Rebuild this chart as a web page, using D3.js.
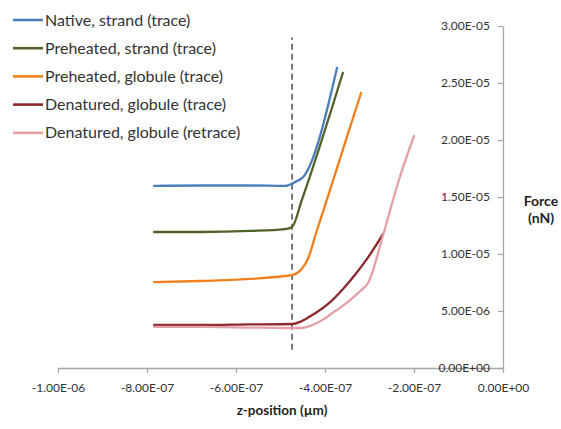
<!DOCTYPE html>
<html>
<head>
<meta charset="utf-8">
<script src="https://cdn.jsdelivr.net/npm/d3@7"></script>
<style>
  html, body { margin: 0; padding: 0; background: #fff; }
  svg { display: block; font-family: Lato, "Open Sans", sans-serif; }
</style>
</head>
<body>
<svg id="chart" width="561" height="429"></svg>
<script>
// Force–distance traces (z-position in µm, force in nN)
const seriesNames = [
  "Native, strand (trace)",
  "Preheated, strand (trace)",
  "Preheated, globule (trace)",
  "Denatured, globule (trace)",
  "Denatured, globule (retrace)"
];
const seriesColors = ["#4a7ebb", "#4f6228", "#f07f1e", "#8c2a2e", "#e3a0a6"];

const nativeStrandZ = [-7.84e-7, -6.81e-7, -5.69e-7, -4.90e-7, -4.76e-7, -4.67e-7, -4.49e-7, -3.73e-7];
const nativeStrandF = [1.597e-5, 1.601e-5, 1.601e-5, 1.597e-5, 1.614e-5, 1.632e-5, 1.675e-5, 2.632e-5];

const preheatedStrandZ = [-7.84e-7, -6.81e-7, -5.69e-7, -4.90e-7, -4.74e-7, -4.52e-7, -3.60e-7];
const preheatedStrandF = [1.193e-5, 1.193e-5, 1.202e-5, 1.219e-5, 1.237e-5, 1.474e-5, 2.588e-5];

const preheatedGlobuleZ = [-7.84e-7, -6.81e-7, -5.69e-7, -4.90e-7, -4.72e-7, -4.60e-7, -4.50e-7, -4.38e-7, -4.20e-7, -3.93e-7, -3.55e-7, -3.19e-7];
const preheatedGlobuleF = [7.54e-6, 7.63e-6, 7.81e-6, 8.07e-6, 8.16e-6, 8.40e-6, 8.80e-6, 9.60e-6, 1.184e-5, 1.509e-5, 1.974e-5, 2.412e-5];

const denaturedTraceZ = [-7.84e-7, -6.81e-7, -5.69e-7, -4.74e-7, -4.56e-7, -4.38e-7, -4.16e-7, -3.89e-7, -3.60e-7, -3.33e-7, -3.06e-7, -2.88e-7, -2.70e-7];
const denaturedTraceF = [3.77e-6, 3.77e-6, 3.82e-6, 3.86e-6, 4.05e-6, 4.42e-6, 4.95e-6, 5.75e-6, 6.90e-6, 8.15e-6, 9.55e-6, 1.060e-5, 1.175e-5];

const denaturedRetraceZ = [-7.84e-7, -6.81e-7, -5.69e-7, -4.90e-7, -4.56e-7, -4.36e-7, -4.18e-7, -4.00e-7, -3.84e-7, -3.62e-7, -3.41e-7, -3.21e-7, -3.03e-7, -2.70e-7, -2.36e-7, -2.00e-7];
const denaturedRetraceF = [3.60e-6, 3.60e-6, 3.55e-6, 3.51e-6, 3.51e-6, 3.65e-6, 3.95e-6, 4.35e-6, 4.80e-6, 5.40e-6, 6.05e-6, 6.75e-6, 7.46e-6, 1.158e-5, 1.623e-5, 2.035e-5];

// contact point marker (vertical dashed line)
const contactZ = -4.74e-7;
const contactSpan = [1.6e-6, 2.9e-5];

const xTicks = [-1e-6, -8e-7, -6e-7, -4e-7, -2e-7, 0];
const xTickLabels = ["-1.00E-06", "-8.00E-07", "-6.00E-07", "-4.00E-07", "-2.00E-07", "0.00E+00"];
const yTicks = [0, 5e-6, 1e-5, 1.5e-5, 2e-5, 2.5e-5, 3e-5];
const yTickLabels = ["0.00E+00", "5.00E-06", "1.00E-05", "1.50E-05", "2.00E-05", "2.50E-05", "3.00E-05"];

const seriesZ = [nativeStrandZ, preheatedStrandZ, preheatedGlobuleZ, denaturedTraceZ, denaturedRetraceZ];
const seriesF = [nativeStrandF, preheatedStrandF, preheatedGlobuleF, denaturedTraceF, denaturedRetraceF];

const svg = d3.select("#chart");
const plot = { left: 58, right: 503, top: 26, bottom: 368 };

const x = d3.scaleLinear().domain([-1e-6, 0]).range([plot.left, plot.right]);
const y = d3.scaleLinear().domain([0, 3e-5]).range([plot.bottom, plot.top]);

const axisColor = "#a6a6a6";
const labelColor = "#333";

// x axis
const gx = svg.append("g")
  .attr("transform", `translate(0,${plot.bottom})`)
  .call(d3.axisBottom(x)
    .tickValues(xTicks)
    .tickFormat((d, i) => xTickLabels[i])
    .tickSizeInner(5).tickSizeOuter(0).tickPadding(10));

// y axis on the right edge, labels inside
const gy = svg.append("g")
  .attr("transform", `translate(${plot.right},0)`)
  .call(d3.axisLeft(y)
    .tickValues(yTicks)
    .tickFormat((d, i) => yTickLabels[i])
    .tickSizeInner(5).tickSizeOuter(0).tickPadding(8));

[gx, gy].forEach(g => {
  g.select(".domain").attr("stroke", axisColor).attr("stroke-width", 1.3);
  g.selectAll(".tick line").attr("stroke", axisColor).attr("stroke-width", 1.2);
  g.selectAll(".tick text")
    .attr("fill", labelColor)
    .style("font-family", "Lato, 'Open Sans', sans-serif")
    .style("font-size", "12px");
});
gy.raise();

// contact dashed line
svg.append("line")
  .attr("x1", x(contactZ)).attr("x2", x(contactZ))
  .attr("y1", y(contactSpan[0])).attr("y2", y(contactSpan[1]))
  .attr("stroke", "#333")
  .attr("stroke-width", 1.3)
  .attr("stroke-dasharray", "6,4");

// traces
const line = d3.line()
  .x(d => x(d[0]))
  .y(d => y(d[1]))
  .curve(d3.curveMonotoneX);

seriesZ.forEach((zs, i) => {
  const pts = zs.map((z, j) => [z, seriesF[i][j]]);
  svg.append("path")
    .datum(pts)
    .attr("d", line)
    .attr("fill", "none")
    .attr("stroke", seriesColors[i])
    .attr("stroke-width", 2.3)
    .attr("stroke-linejoin", "round")
    .attr("stroke-linecap", "round");
});

// legend
const legend = svg.append("g").attr("transform", "translate(13,20)");
seriesNames.forEach((name, i) => {
  const row = legend.append("g").attr("transform", `translate(0,${i * 28.2})`);
  row.append("line")
    .attr("x1", 0).attr("x2", 30)
    .attr("y1", 0).attr("y2", 0)
    .attr("stroke", seriesColors[i])
    .attr("stroke-width", 2.6);
  row.append("text")
    .attr("x", 32).attr("y", 0).attr("dy", "0.35em")
    .attr("fill", "#333")
    .style("font-size", "16px")
    .text(name);
});

// axis titles
svg.append("text")
  .attr("x", 282).attr("y", 410)
  .attr("text-anchor", "middle")
  .attr("dy", "0.35em")
  .attr("fill", "#222")
  .style("font-size", "13.5px")
  .style("font-weight", "bold")
  .text("z-position (µm)");

const yTitle = svg.append("text")
  .attr("x", 541).attr("y", 201)
  .attr("text-anchor", "middle")
  .attr("fill", "#222")
  .style("font-size", "14px")
  .style("font-weight", "bold");
yTitle.append("tspan").attr("x", 541).attr("dy", "0.35em").text("Force");
yTitle.append("tspan").attr("x", 541).attr("dy", "1.25em").text("(nN)");
</script>
</body>
</html>
